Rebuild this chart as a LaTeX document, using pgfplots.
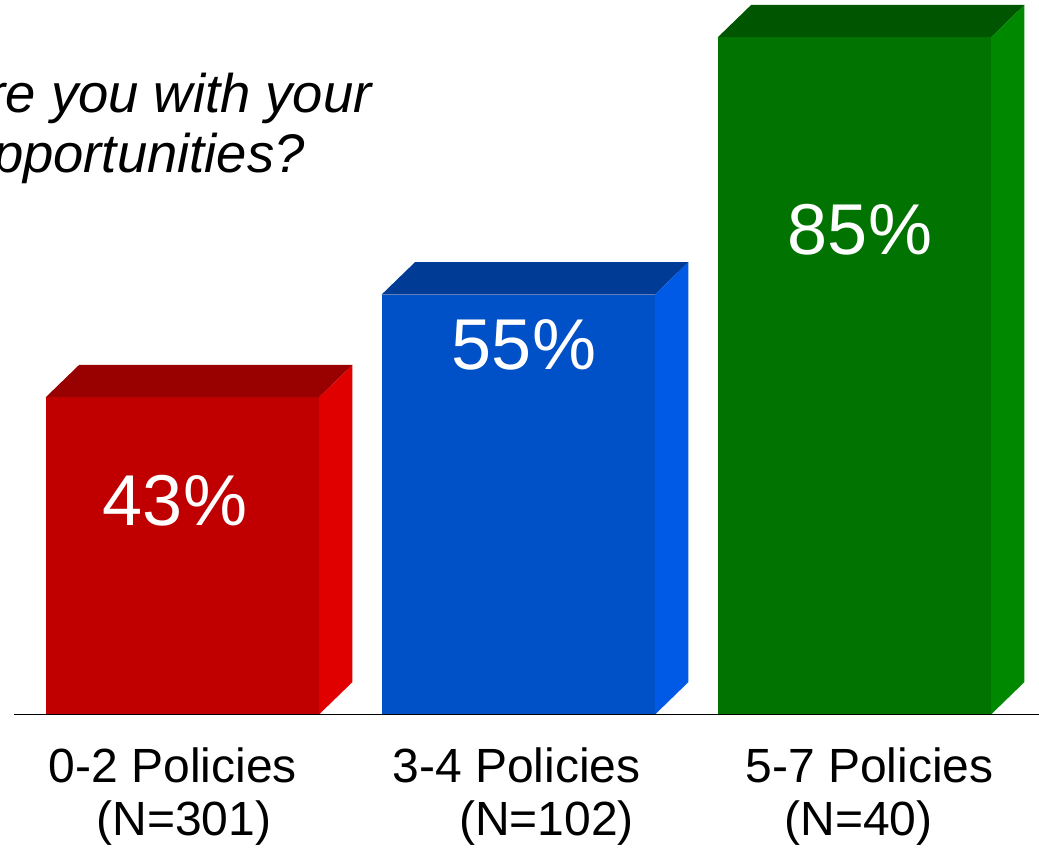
\documentclass[border=0pt]{standalone}
\usepackage{pgfplots}
\pgfplotsset{compat=1.18}
\usepackage{fontspec}
\setmainfont{Liberation Sans}
\definecolor{rF}{HTML}{C00000}
\definecolor{rT}{HTML}{990000}
\definecolor{rS}{HTML}{E00000}
\definecolor{bF}{HTML}{0050C8}
\definecolor{bT}{HTML}{003C96}
\definecolor{bS}{HTML}{005AE6}
\definecolor{gF}{HTML}{007300}
\definecolor{gT}{HTML}{005500}
\definecolor{gS}{HTML}{008800}
\begin{document}
\begin{tikzpicture}
\begin{axis}[
  scale only axis, width=512.5pt, height=357.25pt,
  xmin=-0.5009, xmax=2.5497, ymin=6, ymax=89.37,
  axis x line*=bottom, axis y line=none,
  x axis line style={-, black, line width=0.8pt},
  xtick={0,1,2},
  xticklabels={{\hspace*{-9.3pt}0-2 Policies\\\hspace*{1.7pt}(N=301)},
               {\hspace*{-1.9pt}3-4 Policies\\\hspace*{28.3pt}(N=102)},
               {\hspace*{15.2pt}5-7 Policies\\\hspace*{4.2pt}(N=40)}},
  xtick style={draw=none},
  xticklabel style={align=center, anchor=north, inner sep=0pt, yshift=-16.25pt,
    font=\fontsize{24}{26.5}\selectfont},
  clip=false, axis on top,
]
% red bar (43%)
\addplot[fill=rT, draw=none, forget plot] coordinates {(-0.4068,43) (0.4068,43) (0.5065,46.79) (-0.3071,46.79)};
\addplot[fill=rS, draw=none, forget plot] coordinates {(0.4068,6) (0.5065,9.79) (0.5065,46.79) (0.4068,43)};
\addplot[fill=rF, draw=none, forget plot] coordinates {(-0.4068,6) (0.4068,6) (0.4068,43) (-0.4068,43)};
% blue bar (55%)
\addplot[fill=bT, draw=none, forget plot] coordinates {(0.5932,55) (1.4068,55) (1.5065,58.79) (0.6929,58.79)};
\addplot[fill=bS, draw=none, forget plot] coordinates {(1.4068,6) (1.5065,9.79) (1.5065,58.79) (1.4068,55)};
\addplot[fill=bF, draw=none, forget plot] coordinates {(0.5932,6) (1.4068,6) (1.4068,55) (0.5932,55)};
% green bar (85%)
\addplot[fill=gT, draw=none, forget plot] coordinates {(1.5932,85) (2.4068,85) (2.5065,88.79) (1.6929,88.79)};
\addplot[fill=gS, draw=none, forget plot] coordinates {(2.4068,6) (2.5065,9.79) (2.5065,88.79) (2.4068,85)};
\addplot[fill=gF, draw=none, forget plot] coordinates {(1.5932,6) (2.4068,6) (2.4068,85) (1.5932,85)};
% value labels
\addplot[draw=none, mark=none, forget plot, nodes near coords, point meta=explicit symbolic,
  nodes near coords style={anchor=base, text=white, inner sep=0pt, font=\fontsize{36}{40}\selectfont}]
  coordinates {(-0.0217,28.11)[43\%] (1.017,46.2)[55\%] (2.017,59.62)[85\%]};
\node[anchor=base east, inner sep=0pt, font=\fontsize{27.2}{31}\selectfont\itshape] at (axis cs:0.5646,76.30) {How satisfied are you with your};
\node[anchor=base east, inner sep=0pt, font=\fontsize{27.2}{31}\selectfont\itshape] at (axis cs:0.3652,69.30) {career opportunities?};
\end{axis}
\pgfresetboundingbox
\path[use as bounding box] ([xshift=-7pt,yshift=-66.25pt]current axis.south west) rectangle (current axis.north east);
\end{tikzpicture}
\end{document}
